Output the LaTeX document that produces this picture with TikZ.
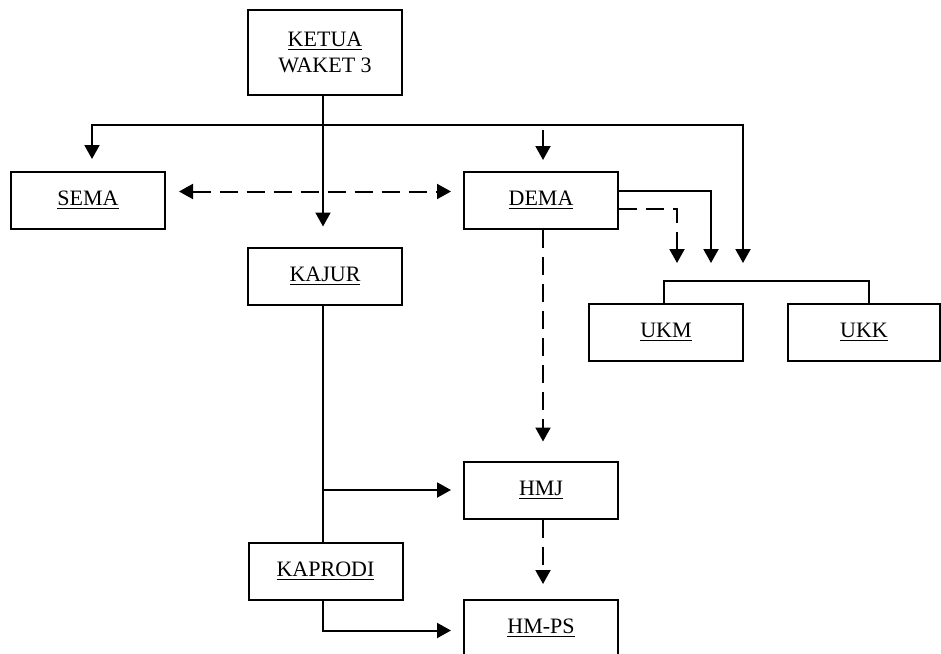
\documentclass[tikz,border=0pt]{standalone}
\usepackage{fontspec}
\setmainfont{Liberation Serif}
\usetikzlibrary{arrows.meta}
\begin{document}
\begin{tikzpicture}[x=0.5pt, y=-0.5pt,
    box/.style={draw, line width=1pt, minimum width=77pt, minimum height=28.5pt, inner sep=0pt, font=\fontsize{11}{14}\selectfont},
    arr/.style={line width=1pt, -{Triangle[length=7pt, width=7.5pt]}},
    dsh/.style={dash pattern=on 9pt off 4.5pt}]
    \useasboundingbox (0,0) rectangle (941,653);
    % Boxes
    \node[box, minimum height=42.5pt, align=center] (ketua) at (325,52.5) {\underline{KETUA}\\[-1pt]WAKET 3};
    \node[box] (sema) at (88,200.5) {\underline{SEMA}};
    \node[box] (dema) at (541,200.5) {\underline{DEMA}};
    \node[box] (kajur) at (325,276) {\underline{KAJUR}};
    \node[box] (ukm) at (666,332.5) {\underline{UKM}};
    \node[box, minimum width=76pt] (ukk) at (864,332.5) {\underline{UKK}};
    \node[box] (hmj) at (541,490) {\underline{HMJ}};
    \node[box] (kaprodi) at (325.5,571.5) {\underline{KAPRODI}};
    \node[box] (hmps) at (541,628.5) {\underline{HM-PS}};
    \coordinate (bus) at (323,125);
    \coordinate (top) at (543,130);
    \coordinate (brk) at (0,281);
    \foreach \n/\x in {tipA/677, tipB/711, tipC/743} \coordinate (\n) at (\x,263);
    % Solid arrows
    \draw[arr] (ketua.south -| bus) -- ([yshift=10pt]kajur.north -| bus);
    \draw[arr] (bus) -| ([yshift=6pt]sema.north -| 92,0);
    \draw[arr] (bus) -| (tipC);
    \draw[arr] (top) -- ([yshift=5.5pt]dema.north -| top);
    \draw[arr] ([yshift=5pt]dema.east) -| (tipB);
    \draw[arr] (kajur.south -| bus) |- ([xshift=-6pt]hmj.west);
    \draw[arr] (kaprodi.south -| bus) |- ([xshift=-6pt, yshift=-1pt]hmps.west);
    % Dashed arrows
    \draw[arr, dsh, {Triangle[length=7pt, width=7.5pt]}-{Triangle[length=7pt, width=7.5pt]}] ([xshift=6.5pt, yshift=4.5pt]sema.east) -- ([xshift=-6pt, yshift=4.5pt]dema.west);
    \draw[arr, dsh] ([yshift=-4pt]dema.east) -| (tipA);
    \draw[arr, dsh] (dema.south -| top) -- ([yshift=9.5pt]hmj.north -| top);
    \draw[arr, dsh] (hmj.south -| top) -- ([yshift=7.5pt]hmps.north -| top);
    % Lines
    \draw[line width=1pt] (kajur.south -| bus) -- (kaprodi.north -| bus);
    \draw[line width=1pt] ([xshift=-1pt]ukm.north) |- (brk -| 869,0) -- (ukk.north -| 869,0);
\end{tikzpicture}
\end{document}
